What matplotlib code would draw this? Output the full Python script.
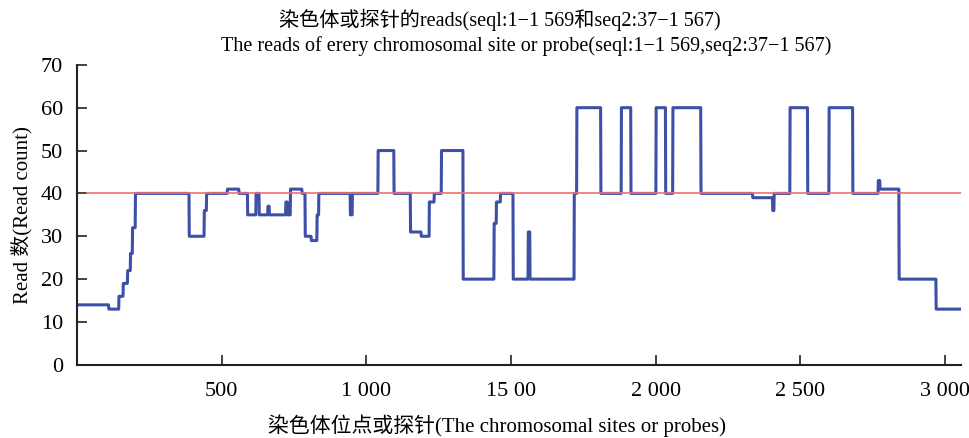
import matplotlib
matplotlib.use("Agg")
import matplotlib.pyplot as plt
import numpy as np

# segments: start probe, end probe, read count
seg_start = [5, 110, 145, 160, 175, 185, 192, 202, 388, 440, 448, 520, 560, 590, 619, 630,
             660, 665, 722, 728, 738, 778, 789, 810, 830, 836, 945, 952, 1041, 1096, 1153,
             1190, 1218, 1235, 1260, 1335, 1442, 1450, 1464, 1508, 1560, 1566, 1719, 1728,
             1811, 1882, 1915, 2002, 2035, 2060, 2157, 2336, 2405, 2410, 2465, 2526, 2600,
             2682, 2770, 2776, 2842, 2970]
seg_end = seg_start[1:] + [3052]
seg_level = [14, 13, 16, 19, 22, 26, 32, 40, 30, 36, 40, 41, 40, 35, 40, 35,
             37, 35, 38, 35, 41, 40, 30, 29, 35, 40, 35, 40, 50, 40, 31,
             30, 38, 40, 50, 20, 33, 38, 40, 20, 31, 20, 40, 60,
             40, 60, 40, 60, 40, 60, 40, 39, 36, 40, 60, 40, 60,
             40, 43, 41, 20, 13]
baseline = 40

xticks = [500, 1000, 1500, 2000, 2500, 3000]
xtick_labels = ["500", "1 000", "15 00", "2 000", "2 500", "3 000"]
yticks = [0, 10, 20, 30, 40, 50, 60, 70]

probes = np.arange(seg_start[0], seg_end[-1])
reads = np.repeat(seg_level, np.diff(seg_start + [seg_end[-1]]))

plt.rcParams['font.family'] = ['Liberation Serif', 'Noto Sans CJK SC']

fig = plt.figure(figsize=(9.69, 4.38), dpi=100)
ax = fig.add_axes([0.0795, 0.167, 0.912, 0.685])

ax.plot(probes, reads, color='#3d4fa6', lw=2.2, zorder=2)
ax.hlines(baseline, probes[0] + 25, 3055, color='#f07070', lw=1.2, zorder=3)

ax.set_xlim(0, 3055)
ax.set_ylim(0, 70)
ax.set_xticks(xticks)
ax.set_xticklabels(xtick_labels)
ax.set_yticks(yticks)
ax.tick_params(direction='in', length=7, width=1.2, labelsize=16, color='#222222')
ax.tick_params(axis='x', pad=12)
ax.tick_params(axis='y', pad=10)

for s in ['top', 'right']:
    ax.spines[s].set_visible(False)
for s in ['left', 'bottom']:
    ax.spines[s].set_linewidth(1.5)
    ax.spines[s].set_color('#222222')

ax.set_ylabel("Read 数(Read count)", fontsize=15, labelpad=6)
ax.set_xlabel("染色体位点或探针(The chromosomal sites or probes)", fontsize=15)
ax.xaxis.set_label_coords(0.475, -0.165)

fig.text(0.516, 0.955, "染色体或探针的reads(seql:1−1 569和seq2:37−1 567)",
         ha='center', va='center', fontsize=14.5)
fig.text(0.543, 0.895, "The reads of erery chromosomal site or probe(seql:1−1 569,seq2:37−1 567)",
         ha='center', va='center', fontsize=14.5)

fig.savefig("out.png", dpi=100)
